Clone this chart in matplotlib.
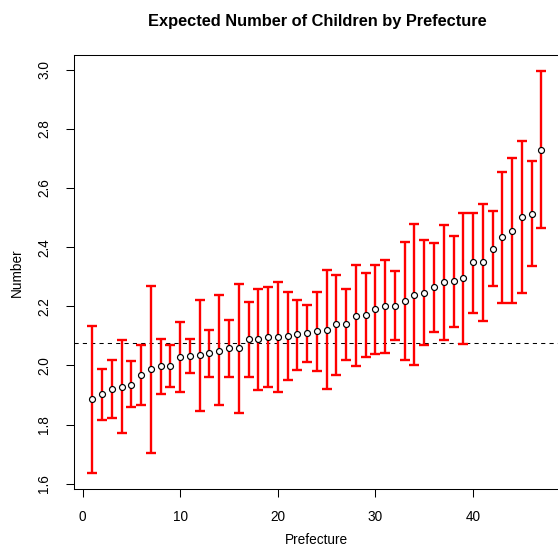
import numpy as np
import matplotlib
matplotlib.use("Agg")
import matplotlib.pyplot as plt

plt.rcParams['font.family'] = ['Liberation Sans', 'DejaVu Sans']

# posterior mean and interval for each prefecture, sorted by mean
prefecture = np.arange(1, 48)
est = [1.886, 1.903, 1.920, 1.927, 1.934, 1.967, 1.987, 1.997, 1.997, 2.027,
       2.032, 2.035, 2.041, 2.050, 2.058, 2.058, 2.088, 2.088, 2.096, 2.096,
       2.100, 2.105, 2.111, 2.116, 2.120, 2.139, 2.139, 2.168, 2.172, 2.191,
       2.201, 2.201, 2.218, 2.238, 2.245, 2.265, 2.281, 2.286, 2.296, 2.349,
       2.350, 2.395, 2.433, 2.455, 2.501, 2.513, 2.730]
lower = [1.637, 1.816, 1.821, 1.772, 1.858, 1.867, 1.705, 1.904, 1.926, 1.909,
         1.976, 1.847, 1.960, 1.865, 1.960, 1.840, 1.962, 1.918, 1.926, 1.911,
         1.949, 1.986, 2.013, 1.980, 1.920, 1.969, 2.019, 1.997, 2.030, 2.037,
         2.043, 2.086, 2.017, 2.000, 2.068, 2.113, 2.086, 2.131, 2.073, 2.177,
         2.150, 2.267, 2.210, 2.210, 2.244, 2.337, 2.464]
upper = [2.135, 1.989, 2.019, 2.085, 2.014, 2.068, 2.267, 2.090, 2.068, 2.148,
         2.090, 2.222, 2.121, 2.237, 2.155, 2.274, 2.216, 2.260, 2.266, 2.281,
         2.249, 2.222, 2.206, 2.249, 2.324, 2.307, 2.260, 2.341, 2.314, 2.341,
         2.358, 2.318, 2.416, 2.477, 2.423, 2.414, 2.474, 2.437, 2.517, 2.517,
         2.547, 2.521, 2.655, 2.700, 2.758, 2.690, 2.995]
overall = 2.075

est = np.array(est)
yerr = [est - np.array(lower), np.array(upper) - est]

fig = plt.figure(figsize=(5.58, 5.56), dpi=100)
ax = fig.add_axes([0.1332, 0.12, 0.8693, 0.7805])

ax.errorbar(prefecture, est, yerr=yerr, fmt='none', ecolor='#ff0000',
            elinewidth=1.7, capsize=3.6, capthick=1.7, zorder=2)
ax.plot(prefecture, est, 'o', ms=4.3, mfc='white', mec='black', mew=0.85, zorder=3)
ax.axhline(overall, color='black', lw=0.75, linestyle=(0, (4, 4)), zorder=1)

ax.set_xlim(-0.84, 48.84)
ax.set_ylim(1.581, 3.049)
ax.set_xticks([0, 10, 20, 30, 40])
ax.set_yticks([1.6, 1.8, 2.0, 2.2, 2.4, 2.6, 2.8, 3.0])
ax.set_yticklabels(['1.6', '1.8', '2.0', '2.2', '2.4', '2.6', '2.8', '3.0'],
                   rotation=90, va='center')
ax.tick_params(direction='out', length=5.6, width=0.75, labelsize=9.8)
ax.tick_params(axis='x', pad=9)
ax.tick_params(axis='y', pad=11)
for s in ax.spines.values():
    s.set_linewidth(0.75)
ax.spines['right'].set_visible(False)

ax.set_xlabel('Prefecture', fontsize=9.8, va='center')
ax.set_ylabel('Number', fontsize=9.8, va='center')
ax.xaxis.set_label_coords(0.5, -0.1168)
ax.yaxis.set_label_coords(-0.1187, 0.5)
ax.text(0.5, 1.0774, 'Expected Number of Children by Prefecture', transform=ax.transAxes,
        ha='center', va='center', fontsize=11.8, fontweight='bold')

fig.savefig('out.png', dpi=100)
